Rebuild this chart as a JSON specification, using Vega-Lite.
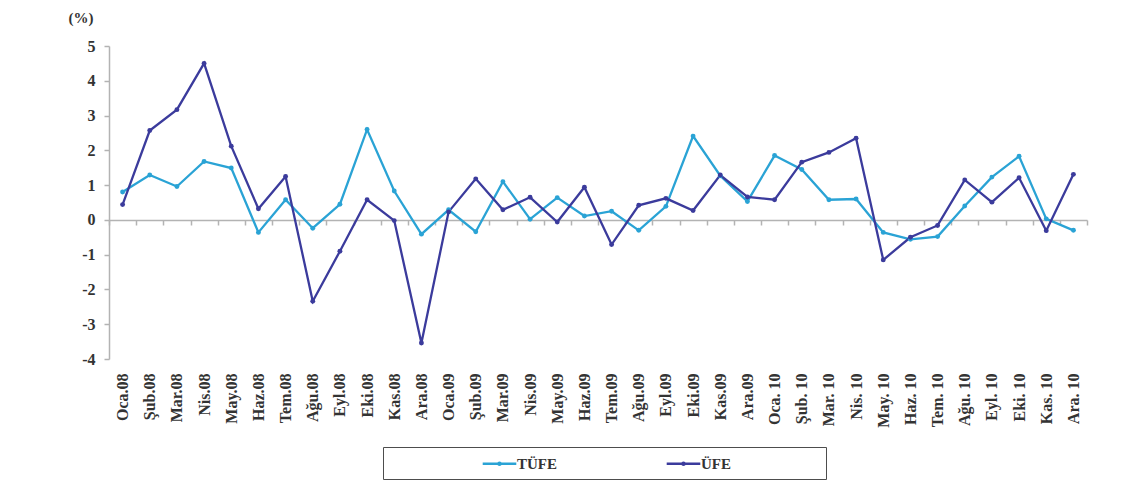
{
  "$schema": "https://vega.github.io/schema/vega-lite/v6.json",
  "width": 978,
  "height": 313,
  "autosize": {"type": "none"},
  "padding": {"left": 109, "top": 46, "right": 53, "bottom": 134},
  "background": "white",
  "config": {
    "view": {"stroke": null},
    "font": "Liberation Serif"
  },
  "data": {
    "values": [
      {"month": "Oca.08", "series": "TÜFE", "value": 0.80},
      {"month": "Şub.08", "series": "TÜFE", "value": 1.29},
      {"month": "Mar.08", "series": "TÜFE", "value": 0.96},
      {"month": "Nis.08", "series": "TÜFE", "value": 1.68},
      {"month": "May.08", "series": "TÜFE", "value": 1.49},
      {"month": "Haz.08", "series": "TÜFE", "value": -0.36},
      {"month": "Tem.08", "series": "TÜFE", "value": 0.58},
      {"month": "Ağu.08", "series": "TÜFE", "value": -0.24},
      {"month": "Eyl.08", "series": "TÜFE", "value": 0.45},
      {"month": "Eki.08", "series": "TÜFE", "value": 2.60},
      {"month": "Kas.08", "series": "TÜFE", "value": 0.83},
      {"month": "Ara.08", "series": "TÜFE", "value": -0.41},
      {"month": "Oca.09", "series": "TÜFE", "value": 0.29},
      {"month": "Şub.09", "series": "TÜFE", "value": -0.34},
      {"month": "Mar.09", "series": "TÜFE", "value": 1.10},
      {"month": "Nis.09", "series": "TÜFE", "value": 0.02},
      {"month": "May.09", "series": "TÜFE", "value": 0.64},
      {"month": "Haz.09", "series": "TÜFE", "value": 0.11},
      {"month": "Tem.09", "series": "TÜFE", "value": 0.25},
      {"month": "Ağu.09", "series": "TÜFE", "value": -0.30},
      {"month": "Eyl.09", "series": "TÜFE", "value": 0.39},
      {"month": "Eki.09", "series": "TÜFE", "value": 2.41},
      {"month": "Kas.09", "series": "TÜFE", "value": 1.27},
      {"month": "Ara.09", "series": "TÜFE", "value": 0.53},
      {"month": "Oca. 10", "series": "TÜFE", "value": 1.85},
      {"month": "Şub. 10", "series": "TÜFE", "value": 1.45},
      {"month": "Mar. 10", "series": "TÜFE", "value": 0.58},
      {"month": "Nis. 10", "series": "TÜFE", "value": 0.60},
      {"month": "May. 10", "series": "TÜFE", "value": -0.36},
      {"month": "Haz. 10", "series": "TÜFE", "value": -0.56},
      {"month": "Tem. 10", "series": "TÜFE", "value": -0.48},
      {"month": "Ağu. 10", "series": "TÜFE", "value": 0.40},
      {"month": "Eyl. 10", "series": "TÜFE", "value": 1.23},
      {"month": "Eki. 10", "series": "TÜFE", "value": 1.83},
      {"month": "Kas. 10", "series": "TÜFE", "value": 0.03},
      {"month": "Ara. 10", "series": "TÜFE", "value": -0.30},
      {"month": "Oca.08", "series": "ÜFE", "value": 0.44},
      {"month": "Şub.08", "series": "ÜFE", "value": 2.57},
      {"month": "Mar.08", "series": "ÜFE", "value": 3.17},
      {"month": "Nis.08", "series": "ÜFE", "value": 4.50},
      {"month": "May.08", "series": "ÜFE", "value": 2.12},
      {"month": "Haz.08", "series": "ÜFE", "value": 0.32},
      {"month": "Tem.08", "series": "ÜFE", "value": 1.25},
      {"month": "Ağu.08", "series": "ÜFE", "value": -2.34},
      {"month": "Eyl.08", "series": "ÜFE", "value": -0.90},
      {"month": "Eki.08", "series": "ÜFE", "value": 0.58},
      {"month": "Kas.08", "series": "ÜFE", "value": -0.02},
      {"month": "Ara.08", "series": "ÜFE", "value": -3.54},
      {"month": "Oca.09", "series": "ÜFE", "value": 0.23},
      {"month": "Şub.09", "series": "ÜFE", "value": 1.18},
      {"month": "Mar.09", "series": "ÜFE", "value": 0.29},
      {"month": "Nis.09", "series": "ÜFE", "value": 0.65},
      {"month": "May.09", "series": "ÜFE", "value": -0.06},
      {"month": "Haz.09", "series": "ÜFE", "value": 0.94},
      {"month": "Tem.09", "series": "ÜFE", "value": -0.71},
      {"month": "Ağu.09", "series": "ÜFE", "value": 0.42},
      {"month": "Eyl.09", "series": "ÜFE", "value": 0.62},
      {"month": "Eki.09", "series": "ÜFE", "value": 0.27},
      {"month": "Kas.09", "series": "ÜFE", "value": 1.29},
      {"month": "Ara.09", "series": "ÜFE", "value": 0.66},
      {"month": "Oca. 10", "series": "ÜFE", "value": 0.58},
      {"month": "Şub. 10", "series": "ÜFE", "value": 1.66},
      {"month": "Mar. 10", "series": "ÜFE", "value": 1.94},
      {"month": "Nis. 10", "series": "ÜFE", "value": 2.35},
      {"month": "May. 10", "series": "ÜFE", "value": -1.15},
      {"month": "Haz. 10", "series": "ÜFE", "value": -0.50},
      {"month": "Tem. 10", "series": "ÜFE", "value": -0.16},
      {"month": "Ağu. 10", "series": "ÜFE", "value": 1.15},
      {"month": "Eyl. 10", "series": "ÜFE", "value": 0.51},
      {"month": "Eki. 10", "series": "ÜFE", "value": 1.21},
      {"month": "Kas. 10", "series": "ÜFE", "value": -0.31},
      {"month": "Ara. 10", "series": "ÜFE", "value": 1.31}
    ]
  },
  "mark": {"type": "line", "strokeWidth": 2.3, "point": {"filled": true, "size": 24}},
  "encoding": {
    "x": {
      "field": "month",
      "type": "nominal",
      "sort": null,
      "scale": {"type": "band", "paddingInner": 0, "paddingOuter": 0},
      "axis": {
        "title": null,
        "offset": -139,
        "tickBand": "extent",
        "domainColor": "#b3b3b3",
        "domainWidth": 1.5,
        "tickColor": "#b3b3b3",
        "tickWidth": 1.5,
        "tickSize": 5,
        "labelAngle": -90,
        "labelAlign": "right",
        "labelBaseline": "middle",
        "labelPadding": 148,
        "labelFont": "Liberation Serif",
        "labelFontWeight": "bold",
        "labelFontSize": 16,
        "labelColor": "#333333",
        "grid": false
      }
    },
    "y": {
      "field": "value",
      "type": "quantitative",
      "scale": {"domain": [-4, 5], "nice": false, "zero": false},
      "axis": {
        "values": [-4, -3, -2, -1, 0, 1, 2, 3, 4, 5],
        "format": "d",
        "labelExpr": "replace(datum.label, '\u2212', '-')",
        "grid": false,
        "domainColor": "#b3b3b3",
        "domainWidth": 1.5,
        "tickColor": "#b3b3b3",
        "tickWidth": 1.5,
        "tickSize": 5,
        "labelPadding": 9,
        "labelFont": "Liberation Serif",
        "labelFontWeight": "bold",
        "labelFontSize": 16,
        "labelColor": "#333333",
        "title": "(%)",
        "titleAngle": 0,
        "titleAlign": "left",
        "titleBaseline": "middle",
        "titleX": -41,
        "titleY": -29,
        "titleFont": "Liberation Serif",
        "titleFontWeight": "bold",
        "titleFontSize": 15,
        "titleColor": "#333333"
      }
    },
    "color": {
      "field": "series",
      "type": "nominal",
      "scale": {"domain": ["TÜFE", "ÜFE"], "range": ["#2aa3d5", "#3b3b9c"]},
      "legend": {
        "title": null,
        "orient": "none",
        "direction": "horizontal",
        "legendX": 274,
        "legendY": 401,
        "padding": 7,
        "strokeColor": "#4d4d4d",
        "symbolType": "M-2.1,0L2.1,0M-0.12,0A0.12,0.12,0,1,1,0.12,0A0.12,0.12,0,1,1,-0.12,0Z",
        "symbolSize": 256,
        "symbolStrokeWidth": 2.5,
        "symbolOffset": 100,
        "columnPadding": 16,
        "labelOffset": 8,
        "labelFont": "Liberation Serif",
        "labelFontWeight": "bold",
        "labelFontSize": 15,
        "labelColor": "#333333",
        "labelExpr": "datum.label == 'ÜFE' ? datum.label + '\u2800\u2800\u2800\u2800\u2800\u2800\u2800\u2800' : datum.label"
      }
    }
  }
}
